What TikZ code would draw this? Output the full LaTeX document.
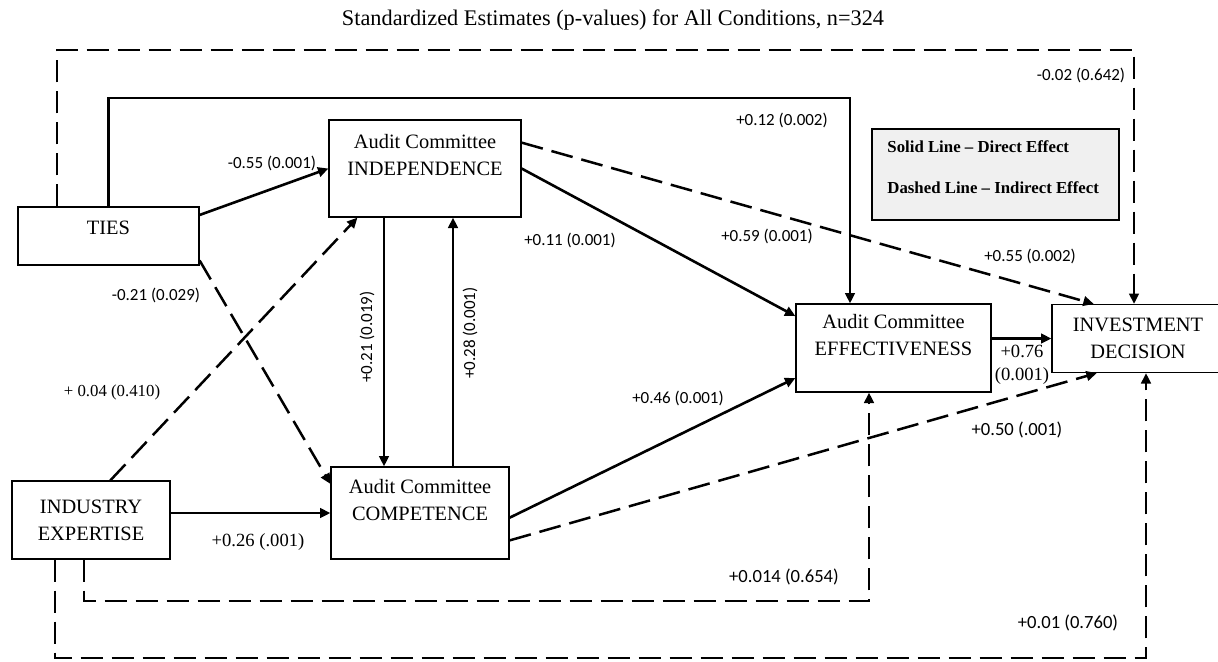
\documentclass[tikz,border=0pt]{standalone}
\usepackage{fontspec}
\setmainfont{Liberation Serif}
\newfontfamily\lblfont{Carlito}
\usetikzlibrary{arrows.meta}

\begin{document}
\begin{tikzpicture}[x=0.5pt, y=-0.5pt,
    box/.style={draw, line width=0.6pt, align=center, inner sep=0pt, font=\fontsize{10.2pt}{13.5pt}\selectfont},
    arr/.style={-{Triangle[length=5.2pt, width=4.8pt]}},
    solidln/.style={line width=1.3pt, arr},
    dashln/.style={line width=1.25pt, dash pattern=on 11pt off 4.5pt, arr},
    lbl/.style={font=\lblfont\fontsize{8.5pt}{10pt}\selectfont},
    lblbig/.style={font=\lblfont\fontsize{9.3pt}{11pt}\selectfont},
    lblserif/.style={font=\fontsize{9.3pt}{11pt}\selectfont}]
    \useasboundingbox (0,0) rectangle (1218,661);

    % Tiêu đề
    \node[font=\fontsize{11.15pt}{13pt}\selectfont] (title) at (613,20) {Standardized Estimates (p-values) for All Conditions, n=324};

    % Các hộp
    \node[box, minimum width=90.5pt, minimum height=29pt, text height=6.7pt, text depth=8pt] (ties) at (108.5,236) {TIES};
    \node[box, minimum width=96pt, minimum height=48.5pt] (indep) at (425,168.5) {Audit Committee\\INDEPENDENCE\\\mbox{}};
    \node[box, minimum width=79pt, minimum height=39pt] (ind) at (91,520) {INDUSTRY\\EXPERTISE};
    \node[box, minimum width=89pt, minimum height=46pt] (comp) at (420,513) {Audit Committee\\COMPETENCE\\\mbox{}};
    \node[box, minimum width=97.5pt, minimum height=44pt] (eff) at (893.5,348) {Audit Committee\\EFFECTIVENESS\\\mbox{}};
    \node[box, minimum width=86pt, minimum height=34pt] (inv) at (1138,338.5) {INVESTMENT\\DECISION};

    % Chú thích
    \node[draw, line width=0.6pt, fill=gray!12, minimum width=123.5pt, minimum height=45.5pt] (legend) at (995.5,174.5) {};
    \node[anchor=west, inner sep=0pt, font=\bfseries\fontsize{8.4pt}{10pt}\selectfont] (legsolid) at (887,147) {Solid Line – Direct Effect};
    \node[anchor=west, inner sep=0pt, font=\bfseries\fontsize{8.4pt}{10pt}\selectfont] (legdash) at (887,188) {Dashed Line – Indirect Effect};

    % Đường liền (tác động trực tiếp)
    \draw[solidln] (ties.13) -- (indep.west);
    \draw[solidln] (ind.east |- comp.west) -- (comp.west);
    \draw[solidln] (indep.south -| 384,0) -- (comp.north -| 384,0);
    \draw[solidln] (comp.north -| 453,0) -- (indep.south -| 453,0);
    \draw[solidln] (indep.east) -- (eff.162);
    \draw[solidln] (comp.-3) -- (eff.197);
    \draw[solidln] (ties.north) |- (850,98) -- (eff.north -| 850,0);
    \draw[line width=1.8pt, arr] (eff.east |- inv.west) -- (inv.west);

    % Đường nét đứt (tác động gián tiếp)
    \draw[dashln] (ties.-15) -- (comp.162);
    \draw[dashln] (ind.64) -- (indep.216);
    \draw[dashln] (indep.15) -- (inv.142);
    \draw[dashln] (comp.-17) -- (inv.220);
    \draw[dashln] (ties.north -| 57,0) |- (1134,50) -- (inv.north -| 1134,0);
    \draw[dashln] (ind.south -| 84,0) |- (869,601) -- (eff.south -| 869,0);
    \draw[dashln] (ind.south -| 55,0) |- (1146,658) -- (inv.south -| 1146,0);

    % Hệ số
    \node[lbl] (l1) at (272,163) {-0.55 (0.001)};
    \node[lbl] (l2) at (156,295) {-0.21 (0.029)};
    \node[font=\fontsize{8.4pt}{10pt}\selectfont] (l3) at (112,392) {+ 0.04 (0.410)};
    \node[lblserif] (l4) at (258,542) {+0.26 (.001)};
    \node[lbl, rotate=90] (l5) at (367,337) {+0.21 (0.019)};
    \node[lbl, rotate=90] (l6) at (470,333) {+0.28 (0.001)};
    \node[lbl] (l7) at (570,240) {+0.11 (0.001)};
    \node[lbl] (l8) at (782,120) {+0.12 (0.002)};
    \node[lbl] (l9) at (767,236) {+0.59 (0.001)};
    \node[lbl] (l10) at (1030,256) {+0.55 (0.002)};
    \node[lbl] (l11) at (1081,75) {-0.02 (0.642)};
    \node[lbl] (l12) at (678,398) {+0.46 (0.001)};
    \node[lblserif] (l13) at (1022,351) {+0.76};
    \node[lblserif] (l14) at (1022,376) {(0.001)};
    \node[lblbig] (l15) at (1017,430) {+0.50 (.001)};
    \node[lblbig] (l16) at (784,577) {+0.014 (0.654)};
    \node[lblbig] (l17) at (1068,623) {+0.01 (0.760)};
\end{tikzpicture}
\end{document}
